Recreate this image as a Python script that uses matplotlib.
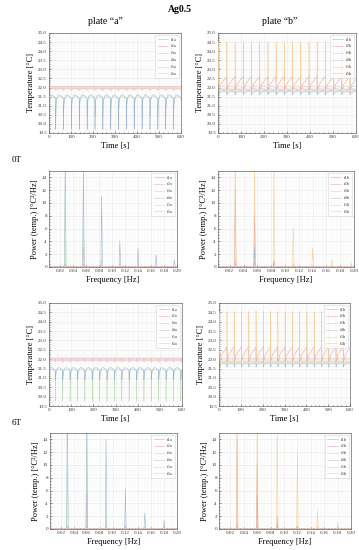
import numpy as np
import matplotlib
matplotlib.use("Agg")
import matplotlib.pyplot as plt

plt.rcParams["font.family"] = ["Liberation Serif", "DejaVu Serif"]

# trace colours (t1..t6), pale like the original
colors = ["#8fabd3", "#e79a9a", "#b5dcae", "#c7b0d6", "#f5c88e", "#f0b9c9"]

# ---- temperature: one cycle per trace (phase of period -> temp), repeated over the run
phase = [0.0, 0.015, 0.05, 0.12, 0.3, 0.55, 0.8, 0.985]
period_0T = 35.7
period_6T = 33.3
start_0T = 30.0
start_6T = 28.0

temp_a_0T = [
    [21.35, 19.70, 20.90, 21.35, 21.58, 21.60, 21.50, 21.38],
    [22.05, 22.00, 22.02, 22.05, 22.07, 22.06, 22.05, 22.05],
    [21.45, 20.40, 21.10, 21.35, 21.48, 21.50, 21.47, 21.45],
    [21.90, 21.85, 21.87, 21.90, 21.93, 21.93, 21.92, 21.91],
    [21.95, 21.90, 21.92, 21.95, 21.97, 21.97, 21.96, 21.95],
    [22.00, 21.95, 21.97, 22.00, 22.02, 22.02, 22.01, 22.00],
]
temp_b_0T = [
    [21.72, 21.60, 21.64, 21.70, 21.75, 21.78, 21.77, 21.74],
    [22.55, 21.85, 21.90, 22.00, 22.20, 22.35, 22.50, 22.60],
    [21.80, 21.70, 21.73, 21.78, 21.82, 21.84, 21.83, 21.81],
    [22.00, 21.88, 21.92, 21.98, 22.05, 22.05, 22.03, 22.00],
    [21.92, 24.50, 22.30, 22.00, 21.92, 21.90, 21.90, 21.91],
    [21.85, 21.75, 21.78, 21.83, 21.88, 21.88, 21.87, 21.86],
]
temp_a_6T = [
    [21.40, 20.90, 21.10, 21.38, 21.52, 21.55, 21.48, 21.42],
    [22.06, 22.00, 22.02, 22.05, 22.07, 22.06, 22.06, 22.06],
    [21.35, 19.75, 20.95, 21.30, 21.45, 21.47, 21.42, 21.38],
    [21.90, 21.85, 21.87, 21.90, 21.93, 21.93, 21.92, 21.91],
    [21.95, 21.90, 21.92, 21.95, 21.97, 21.97, 21.96, 21.95],
    [22.00, 21.95, 21.97, 22.00, 22.02, 22.02, 22.01, 22.00],
]
temp_b_6T = [
    [21.72, 21.58, 21.63, 21.70, 21.75, 21.78, 21.77, 21.74],
    [22.60, 21.85, 21.90, 22.02, 22.25, 22.40, 22.55, 22.65],
    [21.80, 21.70, 21.73, 21.78, 21.82, 21.84, 21.83, 21.81],
    [22.00, 21.88, 21.92, 21.98, 22.05, 22.05, 22.03, 22.00],
    [21.92, 24.55, 22.30, 22.00, 21.92, 21.90, 21.90, 21.91],
    [21.85, 21.75, 21.78, 21.83, 21.88, 21.88, 21.87, 21.86],
]

# ---- power spectra: harmonic peak heights per trace
freq_0T = [0.028, 0.056, 0.084, 0.112, 0.140, 0.168, 0.196]
freq_6T = [0.030, 0.060, 0.090, 0.120, 0.150, 0.180]

pow_a_0T = [
    [19.0, 16.5, 11.2, 4.1, 3.0, 1.9, 1.2],
    [0.3, 0.4, 0.2, 0.1, 0.1, 0.1, 0.1],
    [11.6, 8.6, 1.2, 0.5, 0.3, 0.2, 0.1],
    [0.4, 3.1, 0.3, 0.1, 0.1, 0.1, 0.1],
    [0.2, 0.3, 0.2, 0.1, 0.1, 0.1, 0.1],
    [0.2, 0.2, 0.1, 0.1, 0.1, 0.1, 0.1],
]
pow_b_0T = [
    [0.5, 3.1, 0.8, 0.2, 0.1, 0.1, 0.1],
    [12.3, 8.5, 1.0, 0.3, 0.2, 0.1, 0.1],
    [0.4, 0.3, 0.2, 0.1, 0.1, 0.1, 0.1],
    [1.0, 0.8, 0.4, 0.2, 0.1, 0.1, 0.1],
    [20.0, 18.0, 16.0, 6.2, 3.0, 1.2, 0.6],
    [0.6, 0.5, 0.3, 0.2, 0.1, 0.1, 0.1],
]
pow_a_6T = [
    [22.0, 18.0, 14.0, 6.3, 2.5, 1.4],
    [0.3, 0.4, 0.2, 0.1, 0.1, 0.1],
    [13.0, 12.5, 2.2, 0.6, 0.3, 0.2],
    [0.5, 5.5, 0.4, 0.2, 0.1, 0.1],
    [0.2, 0.3, 0.2, 0.1, 0.1, 0.1],
    [0.2, 0.2, 0.1, 0.1, 0.1, 0.1],
]
pow_b_6T = [
    [0.5, 5.2, 0.6, 0.2, 0.1, 0.1],
    [14.0, 10.3, 2.0, 0.5, 0.3, 0.2],
    [0.4, 0.3, 0.2, 0.1, 0.1, 0.1],
    [1.0, 0.8, 0.4, 0.2, 0.1, 0.1],
    [22.0, 18.0, 16.0, 12.0, 3.0, 1.0],
    [0.6, 0.5, 0.3, 0.2, 0.1, 0.1],
]


def style_axes(ax):
    for s in ax.spines.values():
        s.set_color("#666666")
        s.set_linewidth(0.5)
    ax.tick_params(which="both", direction="in", labelsize=3.6, width=0.4,
                   length=1.5, pad=1.5, colors="#333333")
    ax.tick_params(which="minor", length=0.8)
    ax.grid(True, which="major", color="#e6e6e6", linewidth=0.4)
    ax.grid(True, which="minor", color="#f3f3f3", linewidth=0.3)
    ax.minorticks_on()
    ax.set_axisbelow(True)


def add_legend(ax):
    leg = ax.legend(loc="upper right", fontsize=3.4, handlelength=2.2,
                    handletextpad=0.6, labelspacing=0.55, borderpad=0.5,
                    borderaxespad=0.4, frameon=True, fancybox=False)
    leg.get_frame().set_edgecolor("#cccccc")
    leg.get_frame().set_linewidth(0.4)
    for t in leg.get_texts():
        t.set_color("#444444")


def temp_panel(rect, data, period, start, plate, top=0):
    ax = fig.add_axes(rect)
    n_cyc = int(np.ceil(600 / period)) + 2
    for i, prof in enumerate(data):
        tt = []
        yy = []
        for k in range(-1, n_cyc):
            for p, v in zip(phase, prof):
                tt.append(start + (k + p) * period)
                yy.append(v)
        z = 3 if i == top else 2
        ax.plot(tt, yy, color=colors[i], lw=0.4, alpha=0.85, zorder=z,
                label=f"t{i+1}{plate}")
    ax.set_xlim(0, 600)
    ax.set_ylim(19.5, 25.0)
    ax.set_xticks(range(0, 601, 100))
    ax.set_yticks(np.arange(19.5, 25.01, 0.5))
    ax.yaxis.set_major_formatter(matplotlib.ticker.FormatStrFormatter("%.1f"))
    ax.set_ylabel("Temperature [°C]", fontsize=6, labelpad=2)
    ax.set_xlabel("Time [s]", fontsize=6, labelpad=2)
    style_axes(ax)
    add_legend(ax)
    return ax


def power_panel(rect, data, freqs, plate):
    ax = fig.add_axes(rect)
    hw = 0.0012
    for i, hs in enumerate(data):
        fx = [0.0]
        fy = [0.0]
        for f, h in zip(freqs, hs):
            fx += [f - hw, f, f + hw]
            fy += [0.0, h, 0.0]
        fx.append(0.2)
        fy.append(0.0)
        ax.plot(fx, fy, color=colors[i], lw=0.4, alpha=0.85, label=f"t{i+1}{plate}")
    ax.set_xlim(0.003, 0.2)
    ax.set_ylim(0, 15)
    ax.set_xticks(np.arange(0.02, 0.201, 0.02))
    ax.set_yticks(range(0, 15, 2))
    ax.xaxis.set_major_formatter(matplotlib.ticker.FormatStrFormatter("%.2f"))
    ax.set_ylabel("Power (temp.) [°C²/Hz]", fontsize=6, labelpad=2)
    ax.set_xlabel("Frequency [Hz]", fontsize=6, labelpad=2)
    style_axes(ax)
    add_legend(ax)
    return ax


W, H = 359, 550
fig = plt.figure(figsize=(W / 100, H / 100), dpi=100)


def r(x0, y0, x1, y1):
    return [x0 / W, 1 - y1 / H, (x1 - x0) / W, (y1 - y0) / H]


fig.text(0.5, 1 - 9 / H, "Ag0.5", ha="center", va="center", fontsize=7,
         fontweight="bold")
fig.text(105 / W, 1 - 21 / H, "plate \u201ca\u201d", ha="center", va="center", fontsize=7)
fig.text(280 / W, 1 - 21 / H, "plate \u201cb\u201d", ha="center", va="center", fontsize=7)
fig.text(12 / W, 1 - 160 / H, "0T", ha="left", va="center", fontsize=6.5)
fig.text(12 / W, 1 - 423 / H, "6T", ha="left", va="center", fontsize=6.5)

temp_panel(r(49, 33, 181, 133), temp_a_0T, period_0T, start_0T, "a", top=0)
temp_panel(r(218, 33, 356, 133), temp_b_0T, period_0T, start_0T + 8, "b", top=4)
power_panel(r(49, 171, 177, 267), pow_a_0T, freq_0T, "a")
power_panel(r(218, 171, 354, 267), pow_b_0T, freq_0T, "b")
temp_panel(r(49, 303, 182, 406), temp_a_6T, period_6T, start_6T, "a", top=0)
temp_panel(r(219, 303, 350, 406), temp_b_6T, period_6T, start_6T + 8, "b", top=4)
power_panel(r(50, 433, 177, 529), pow_a_6T, freq_6T, "a")
power_panel(r(219, 433, 351, 529), pow_b_6T, freq_6T, "b")

fig.savefig("out.png", dpi=100)
